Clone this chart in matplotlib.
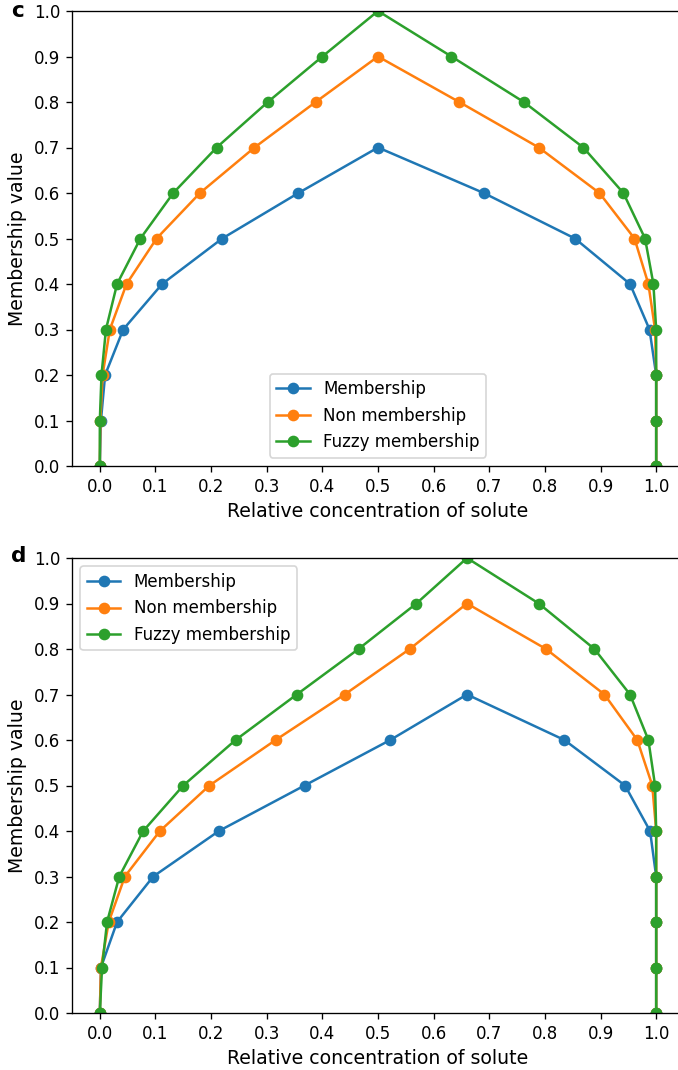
import matplotlib
matplotlib.use('Agg')
import matplotlib.pyplot as plt

# membership levels (y) for each curve
y_mem = [0.0, 0.1, 0.2, 0.3, 0.4, 0.5, 0.6, 0.7, 0.6, 0.5, 0.4, 0.3, 0.2, 0.1, 0.0]
y_non = [0.0, 0.1, 0.2, 0.3, 0.4, 0.5, 0.6, 0.7, 0.8, 0.9, 0.8, 0.7, 0.6, 0.5,
         0.4, 0.3, 0.2, 0.1, 0.0]
y_fuz = [0.0, 0.1, 0.2, 0.3, 0.4, 0.5, 0.6, 0.7, 0.8, 0.9, 1.0, 0.9, 0.8, 0.7,
         0.6, 0.5, 0.4, 0.3, 0.2, 0.1, 0.0]

# panel c: relative concentration of solute
c_mem = [0.0, 0.002, 0.0095, 0.042, 0.112, 0.22, 0.357, 0.5, 0.69, 0.854,
         0.953, 0.988, 1.0, 1.0, 1.0]
c_non = [0.0, 0.001, 0.005, 0.018, 0.048, 0.102, 0.18, 0.278, 0.388, 0.5,
         0.646, 0.789, 0.898, 0.961, 0.986, 0.998, 1.0, 1.0, 1.0]
c_fuz = [0.0, 0.0, 0.003, 0.011, 0.031, 0.073, 0.132, 0.21, 0.302, 0.40, 0.5,
         0.632, 0.762, 0.869, 0.941, 0.98, 0.995, 1.0, 1.0, 1.0, 1.0]

# panel d
d_mem = [0.0, 0.002, 0.031, 0.096, 0.214, 0.368, 0.522, 0.66, 0.835, 0.944,
         0.989, 1.0, 1.0, 1.0, 1.0]
d_non = [0.0, 0.002, 0.016, 0.045, 0.108, 0.197, 0.316, 0.44, 0.557, 0.66,
         0.802, 0.907, 0.966, 0.993, 1.0, 1.0, 1.0, 1.0, 1.0]
d_fuz = [0.0, 0.004, 0.013, 0.035, 0.078, 0.15, 0.244, 0.354, 0.465, 0.569,
         0.66, 0.789, 0.889, 0.953, 0.986, 0.998, 1.0, 1.0, 1.0, 1.0, 1.0]

labels = ['Membership', 'Non membership', 'Fuzzy membership']
xticks = [0.0, 0.1, 0.2, 0.3, 0.4, 0.5, 0.6, 0.7, 0.8, 0.9, 1.0]
yticks = [0.0, 0.1, 0.2, 0.3, 0.4, 0.5, 0.6, 0.7, 0.8, 0.9, 1.0]

W, H = 678, 1070
fig = plt.figure(figsize=(W / 120, H / 120), dpi=120)


def make_panel(rect, xs, legend_loc):
    ax = fig.add_axes(rect)
    for x, y, lab in zip(xs, [y_mem, y_non, y_fuz], labels):
        ax.plot(x, y, marker='o', label=lab)
    ax.set_xlim(-0.05, 1.05)
    ax.set_ylim(0, 1)
    ax.set_xticks(xticks)
    ax.set_yticks(yticks)
    ax.set_xticklabels(['%.1f' % t for t in xticks])
    ax.set_yticklabels(['%.1f' % t for t in yticks])
    ax.set_xlabel('Relative concentration of solute', fontsize=11.3)
    ax.set_ylabel('Membership value', fontsize=11.3)
    ax.legend(loc=legend_loc)
    return ax


# axes boxes in pixels (left, top, right, bottom), right edge runs off the crop
def px_rect(l, t, r, b):
    return [l / W, 1 - b / H, (r - l) / W, (b - t) / H]


make_panel(px_rect(72, 11, 684, 466), [c_mem, c_non, c_fuz], 'lower center')
make_panel(px_rect(72, 558, 684, 1013), [d_mem, d_non, d_fuz], 'upper left')

fig.text(11 / W, 1 - 11 / H, 'c', fontsize=13, fontweight='bold', va='center')
fig.text(11 / W, 1 - 556 / H, 'd', fontsize=13, fontweight='bold', va='center')

fig.savefig('out.png', dpi=120)
